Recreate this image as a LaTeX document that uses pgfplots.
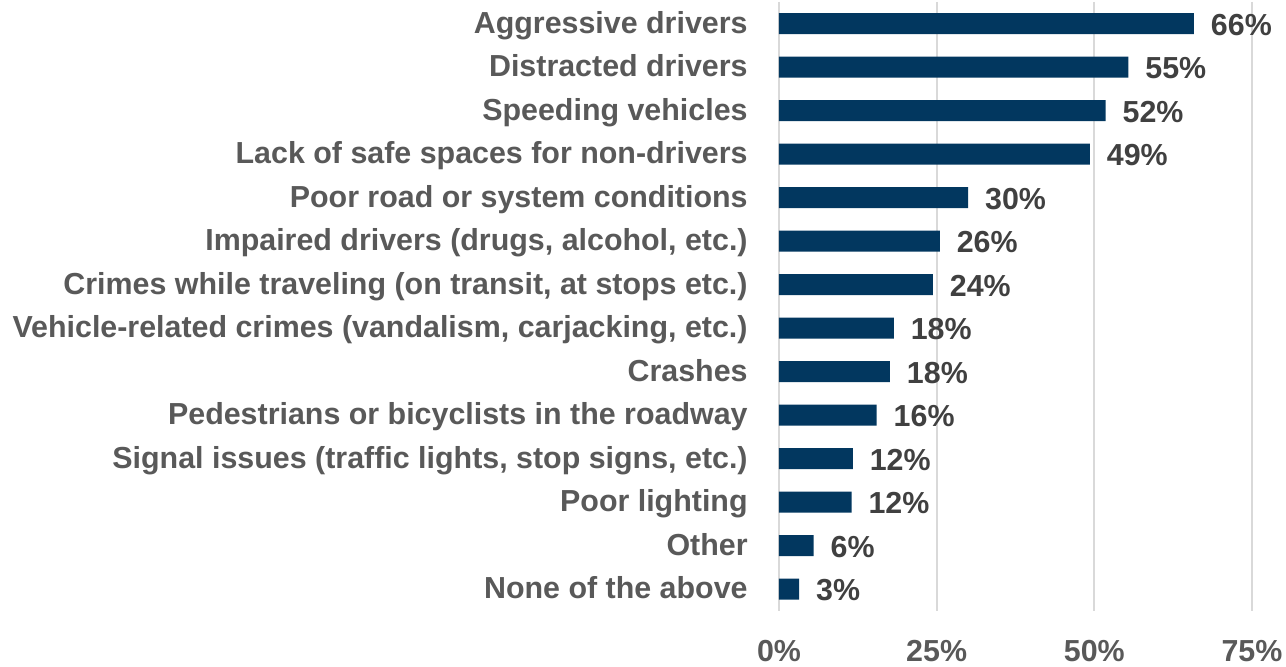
\documentclass[border=0pt]{standalone}
\usepackage{fontspec}
\setmainfont{Liberation Sans}
\usepackage{pgfplots}
\usepackage{pgfplotstable}
\pgfplotsset{compat=1.18}
\definecolor{barblue}{HTML}{02375F}
\definecolor{lblgray}{HTML}{595959}
\definecolor{datagray}{HTML}{404040}
\definecolor{gridgray}{HTML}{D9D9D9}

\pgfplotstableread{
idx val lab
0 65.8 66
1 55.4 55
2 51.8 52
3 49.3 49
4 30.0 30
5 25.5 26
6 24.4 24
7 18.2 18
8 17.6 18
9 15.5 16
10 11.7 12
11 11.5 12
12 5.5 6
13 3.2 3
}\datatable

\newcommand{\lblfont}{\fontsize{15.2}{18}\selectfont\bfseries}

\begin{document}
\begin{tikzpicture}
\begin{axis}[
  at={(389.5pt,28pt)}, anchor=south west,
  scale only axis, width=236.5pt, height=304.5pt,
  xbar, bar width=10.5pt,
  xmin=0, xmax=75, ymin=-0.5, ymax=13.5, y dir=reverse,
  xtick={0,25,50,75},
  xticklabel={\pgfmathprintnumber{\tick}\%},
  ytick={0,...,13},
  yticklabels={Aggressive drivers, Distracted drivers, Speeding vehicles,
    Lack of safe spaces for non-drivers, Poor road or system conditions,
    {Impaired drivers (drugs, alcohol, etc.)},
    {Crimes while traveling (on transit, at stops etc.)},
    {Vehicle-related crimes (vandalism, carjacking, etc.)},
    Crashes, Pedestrians or bicyclists in the roadway,
    {Signal issues (traffic lights, stop signs, etc.)},
    Poor lighting, Other, None of the above},
  axis line style={draw=none}, major tick length=0pt,
  xmajorgrids, grid style={gridgray, line width=0.9pt},
  tick label style={font=\lblfont, text=lblgray},
  yticklabel style={anchor=mid east, inner sep=0pt, xshift=-15.5pt, yshift=-2pt},
  xticklabel style={anchor=north, inner sep=0pt, yshift=-14.5pt},
  /pgf/number format/assume math mode=true,
  point meta=explicit,
  nodes near coords={\pgfmathprintnumber{\pgfplotspointmeta}\%},
  nodes near coords style={anchor=west, inner sep=0pt, xshift=8.3pt, yshift=-0.5pt, font=\lblfont, text=datagray},
  clip=false,
]
\addplot[fill=barblue, draw=none] table[x=val, y=idx, meta=lab] {\datatable};
\end{axis}
\pgfresetboundingbox
\path[use as bounding box] (0,0) rectangle (643pt,333.5pt);
\end{tikzpicture}
\end{document}
